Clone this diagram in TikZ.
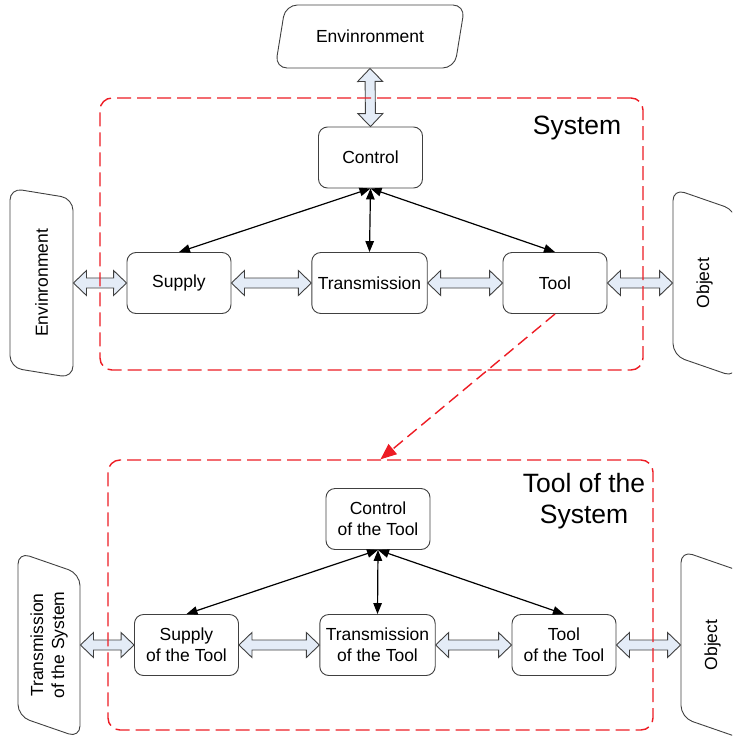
\documentclass[tikz,border=0pt]{standalone}
\usepackage{fontspec}
\setmainfont{Liberation Sans}
\usetikzlibrary{calc}
\usetikzlibrary{shapes.geometric}
\usetikzlibrary{arrows.meta}

\definecolor{linegray}{RGB}{64,64,64}
\definecolor{arrowfill}{RGB}{228,236,247}
\definecolor{framered}{RGB}{237,28,36}

\newcommand{\boxfont}{\fontsize{17.5}{21}\selectfont}
\newcommand{\titlefont}{\fontsize{26.5}{31}\selectfont}

\newcommand{\fatarrow}[2]{%
  \draw[fat] (#1)
    -- ($(#1)!13pt!(#2)!12.5pt!90:(#2)$)
    -- ($(#1)!13pt!(#2)!5pt!90:(#2)$)
    -- ($(#2)!13pt!(#1)!5pt!-90:(#1)$)
    -- ($(#2)!13pt!(#1)!12.5pt!-90:(#1)$)
    -- (#2)
    -- ($(#2)!13pt!(#1)!12.5pt!90:(#1)$)
    -- ($(#2)!13pt!(#1)!5pt!90:(#1)$)
    -- ($(#1)!13pt!(#2)!5pt!-90:(#2)$)
    -- ($(#1)!13pt!(#2)!12.5pt!-90:(#2)$)
    -- cycle;}

\tikzset{
  block/.style={draw=linegray,line width=0.9pt,rounded corners=9pt,
    minimum width=104pt,minimum height=61pt,inner sep=6pt,align=center,font=\boxfont},
  env/.style={trapezium,trapezium left angle=68,trapezium right angle=112,
    trapezium stretches=true,draw=linegray,line width=0.9pt,rounded corners=12pt,
    minimum width=190pt,minimum height=63pt,inner sep=2pt,align=center,font=\boxfont},
  fat/.style={draw=linegray,fill=arrowfill,line width=0.9pt,line join=miter},
  frame/.style={draw=framered,line width=1.4pt,dash pattern=on 14pt off 6pt,
    rounded corners=12pt,inner sep=0pt},
  >={Triangle[length=11pt,width=8.5pt]}
}

\begin{document}
\begin{tikzpicture}[x=1pt,y=-1pt]
  \clip (0,0) rectangle (732,739);
  \node[env] (env) at (370,36.5) {Envinronment};
  \node[env,rotate=90] (lenv) at (41.5,283) {Envinronment};
  \node[env,rotate=90] (obj) at (704.5,283) {Object};
  \node[block] (ctrl) at (370.5,157.5) {Control};
  \node[block] (sup) at (179,283) {Supply};
  \node[block] (trans) at (369.5,283) {Transmission};
  \node[block] (tool) at (555,283) {Tool};

  \node[env,rotate=90,minimum width=186pt,minimum height=62pt] (tsys) at (49,645) {Transmission\\of the System};
  \node[env,rotate=90] (obj2) at (712.5,645) {Object};
  \node[block] (ctrl2) at (378,519) {Control\\of the Tool};
  \node[block] (sup2) at (186.5,645) {Supply\\of the Tool};
  \node[block] (trans2) at (377.5,645) {Transmission\\of the Tool};
  \node[block] (tool2) at (564,645) {Tool\\of the Tool};

  \fatarrow{env.south}{ctrl.north}
  \fatarrow{lenv.south}{sup.west}
  \fatarrow{sup.east}{trans.west}
  \fatarrow{trans.east}{tool.west}
  \fatarrow{tool.east}{obj.north}
  \fatarrow{tsys.south}{sup2.west}
  \fatarrow{sup2.east}{trans2.west}
  \fatarrow{trans2.east}{tool2.west}
  \fatarrow{tool2.east}{obj2.north}

  \draw[<->,line width=1.2pt] (ctrl.south) -- (sup.north);
  \draw[<->,line width=1.2pt] (ctrl.south) -- (trans.north);
  \draw[<->,line width=1.2pt] (ctrl.south) -- (tool.north);
  \draw[<->,line width=1.2pt] (ctrl2.south) -- (sup2.north);
  \draw[<->,line width=1.2pt] (ctrl2.south) -- (trans2.north);
  \draw[<->,line width=1.2pt] (ctrl2.south) -- (tool2.north);

  \node[frame,minimum width=543pt,minimum height=272pt] (sysbox) at (371.5,234) {};
  \node[frame,minimum width=545pt,minimum height=270pt] (toolbox) at (380.5,595) {};
  \node[font=\titlefont] (systitle) at (577,128) {System};
  \node[font=\titlefont,align=center] (tooltitle) at (584,501) {Tool of the\\System};

  \draw[framered,line width=1.4pt,dash pattern=on 12pt off 6pt,
    -{Triangle[length=16pt,width=13pt]}] (tool.south) -- (toolbox.north);
\end{tikzpicture}
\end{document}
